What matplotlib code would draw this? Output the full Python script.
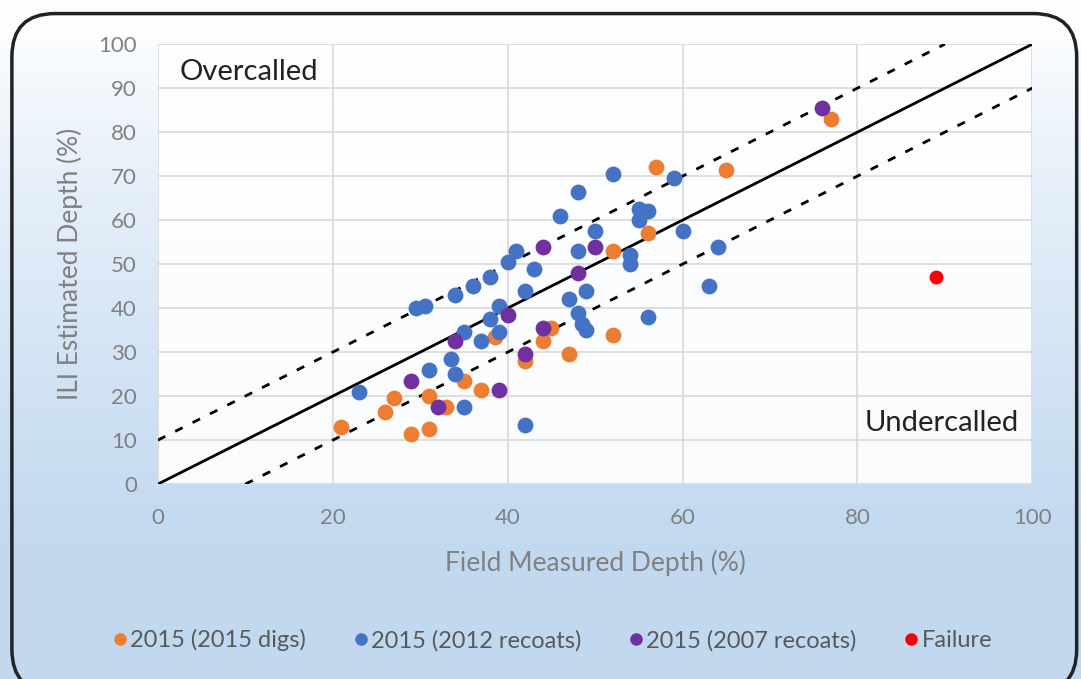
import numpy as np
import matplotlib.pyplot as plt
from matplotlib.patches import FancyBboxPatch
from matplotlib.lines import Line2D

digs_2015_x = [21, 26, 27, 29, 31, 31, 33, 35, 37, 38.5, 42, 44, 45, 47, 52, 52, 56, 57, 65, 77]
digs_2015_y = [13, 16.5, 19.5, 11.5, 12.5, 20, 17.5, 23.5, 21.5, 33.5, 28, 32.5, 35.5, 29.5, 34, 53, 57, 72, 71.5, 83]

recoat_2012_x = [23, 29.5, 30.5, 31, 33.5, 34, 34, 35, 35, 36, 37, 38, 38, 39, 39, 40, 41,
                 42, 42, 43, 46, 47, 48, 48, 48, 48.5, 49, 49, 50, 52, 54, 54, 55, 55, 56,
                 56, 59, 60, 63, 64]
recoat_2012_y = [21, 40, 40.5, 26, 28.5, 25, 43, 17.5, 34.5, 45, 32.5, 47, 37.5, 40.5, 34.5, 50.5, 53,
                 44, 13.5, 49, 61, 42, 66.5, 53, 39, 36.5, 35, 44, 57.5, 70.5, 52, 50, 62.5, 60, 62,
                 38, 69.5, 57.5, 45, 54]

recoat_2007_x = [29, 32, 34, 39, 40, 42, 44, 44, 48, 50, 76]
recoat_2007_y = [23.5, 17.5, 32.5, 21.5, 38.5, 29.5, 35.5, 54, 48, 54, 85.5]

failure_x = [89]
failure_y = [47]

series_labels = ["2015 (2015 digs)", "2015 (2012 recoats)", "2015 (2007 recoats)", "Failure"]
series_colors = ["#ED7D31", "#4472C4", "#7030A0", "#FF0000"]

# linha de igualdade e faixa de tolerancia de +/- 10%
parity_x = [0, 100]
tolerance = 10

plt.rcParams['font.family'] = ['Lato', 'DejaVu Sans']

fig = plt.figure(figsize=(10.81, 6.79), dpi=100)

# fundo em degrade (branco no topo, azul claro embaixo)
bg = fig.add_axes([0, 0, 1, 1], zorder=-10)
grad = np.linspace(0, 1, 256).reshape(-1, 1)
grad = np.clip((grad - 0.05) / 0.75, 0, 1) ** 0.8
top = np.array([0.99, 0.995, 1.0])
bottom = np.array([0.76, 0.85, 0.94])
img = top + (bottom - top) * grad[:, :, None]
bg.imshow(img, aspect='auto', extent=[0, 1, 0, 1], origin='upper')
bg.set_xlim(0, 1)
bg.set_ylim(0, 1)
bg.axis('off')

# borda arredondada do grafico
border = FancyBboxPatch((0.011, -0.02), 0.985, 1.0, boxstyle="round,pad=0,rounding_size=0.04",
                        transform=fig.transFigure, fill=False, edgecolor='#222222',
                        linewidth=2.5, mutation_aspect=1081 / 679)
fig.patches.append(border)

ax = fig.add_axes([0.146, 0.287, 0.809, 0.648])
ax.set_facecolor((1, 1, 1, 0.9))

ax.scatter(digs_2015_x, digs_2015_y, s=130, color=series_colors[0], zorder=3, linewidths=0)
ax.scatter(recoat_2012_x, recoat_2012_y, s=130, color=series_colors[1], zorder=3, linewidths=0)
ax.scatter(recoat_2007_x, recoat_2007_y, s=130, color=series_colors[2], zorder=4, linewidths=0)
ax.scatter(failure_x, failure_y, s=100, color=series_colors[3], zorder=4, linewidths=0)

px = np.array(parity_x)
ax.plot(px, px, color='black', linewidth=2, zorder=2)
ax.plot([px[0], px[1] - tolerance], [px[0] + tolerance, px[1]],
        color='black', linewidth=2, linestyle=(0, (3, 4)), zorder=2)
ax.plot([px[0] + tolerance, px[1]], [px[0], px[1] - tolerance],
        color='black', linewidth=2, linestyle=(0, (3, 4)), zorder=2)

ax.set_xlim(0, 100)
ax.set_ylim(0, 100)
ax.set_xticks(range(0, 101, 20))
ax.set_yticks(range(0, 101, 10))
ax.grid(axis='both', color='#D9D9D9', linewidth=1.2)
ax.set_axisbelow(True)
for s in ax.spines.values():
    s.set_visible(False)
ax.tick_params(axis='both', length=0, labelsize=16, labelcolor='#808080')
ax.tick_params(axis='x', pad=17)
ax.tick_params(axis='y', pad=15)

ax.set_xlabel("Field Measured Depth (%)", fontsize=19, color='#808080', labelpad=16)
ax.set_ylabel("ILI Estimated Depth (%)", fontsize=19, color='#808080', labelpad=11)

ax.text(2.5, 93.6, "Overcalled", fontsize=21, color='#222222', va='center', ha='left')
ax.text(98.5, 14, "Undercalled", fontsize=21, color='#222222', va='center', ha='right')

handles = [Line2D([], [], marker='o', linestyle='', markersize=8, color=c) for c in series_colors]
fig.legend(handles, series_labels, loc='center', bbox_to_anchor=(0.51, 0.057), ncol=4,
           frameon=False, fontsize=17, labelcolor='#595959', handletextpad=0.05,
           columnspacing=1.9, handlelength=0.8)

fig.savefig("out.png", dpi=100)
